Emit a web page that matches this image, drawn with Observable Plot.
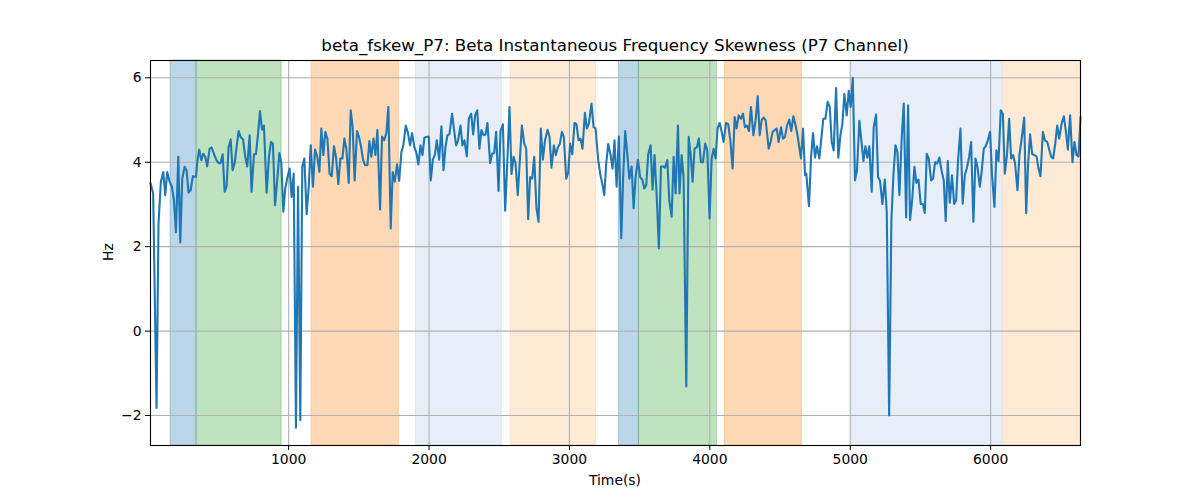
<!DOCTYPE html>
<html>
<head>
<meta charset="utf-8">
<script src="https://cdn.jsdelivr.net/npm/d3@7"></script>
<script src="https://cdn.jsdelivr.net/npm/@observablehq/plot@0.6"></script>
<style>
  html, body { margin: 0; padding: 0; background: #fff; }
  #wrap { position: relative; width: 1200px; height: 500px; font-family: "DejaVu Sans", sans-serif; }
  #title { position: absolute; left: 150px; width: 930px; top: 37px; text-align: center; font-size: 16.7px; line-height: 1; color: #000; white-space: nowrap; }
  #xlabel { position: absolute; left: 150px; width: 930px; top: 474px; text-align: center; font-size: 13.9px; line-height: 1; color: #000; }
  #ylabel { position: absolute; left: 109px; top: 252px; font-size: 13.9px; line-height: 1; color: #000; transform: translate(-50%, -50%) rotate(-90deg); white-space: nowrap; }
  svg { position: absolute; left: 0; top: 0; }
</style>
</head>
<body>
<div id="wrap">
  <div id="chart"></div>
  <div id="title">beta_fskew_P7: Beta Instantaneous Frequency Skewness (P7 Channel)</div>
  <div id="xlabel">Time(s)</div>
  <div id="ylabel">Hz</div>
</div>
<script>
// Sampled time (s)
const times = [16,35,59,73,90,107,121,135,152,168,183,197,214,228,242,259,273,287,302,318,340,349,363,378,392,406,420,437,451,468,484,501,515,530,544,558,572,587,601,615,629,644,658,675,691,705,722,736,753,767,781,796,810,824,843,860,874,888,903,919,934,948,962,
976,991,1007,1021,1036,1052,1067,1083,1097,1112,1128,1143,1157,1173,1188,1204,1219,1233,1247,1261,1276,1292,1307,1323,1337,1354,1368,1383,1397,1411,1428,1442,1456,1470,1487,1501,1516,1530,1544,1561,1575,1589,1604,1618,1632,1651,1665,1680,1696,1710,1727,1741,1756,1772,1787,1803,1817,1834,1848,1865,1879,
1896,1910,1924,1939,1953,1967,1981,1998,2012,2027,2041,2055,2072,2088,2103,2117,2131,2145,2164,2179,2193,2207,2224,2238,2252,2269,2283,2300,2314,2328,2343,2359,2373,2388,2402,2416,2435,2449,2464,2478,2495,2509,2526,2542,2556,2573,2587,2602,2616,2632,2647,2661,2678,2692,2706,2720,2735,2749,2765,2780,2796,2811,2825,2844,
2858,2872,2889,2903,2917,2932,2946,2960,2977,2991,3005,3020,3036,3050,3065,3079,3093,3110,3124,3138,3157,3172,3186,3205,3219,3233,3248,3262,3276,3293,3307,3321,3336,3352,3369,3383,3397,3412,3426,3443,3457,3471,3488,3504,3519,3533,3547,3561,3578,3592,3606,3623,3637,3652,3666,3680,3697,3711,3728,3742,3756,3773,
3784,3799,3813,3832,3849,3863,3877,3891,3908,3922,3937,3951,3967,3982,3998,4013,4027,4041,4055,4070,4084,4098,4115,4131,4146,4162,4177,4191,4205,4222,4236,4250,4264,4279,4293,4310,4326,4341,4355,4369,4383,4398,4419,4433,4447,4462,4476,4490,4507,4521,4535,4550,4566,4580,4595,4611,4626,4640,4649,4664,4678,4687,4706,
4721,4735,4749,4763,4780,4794,4808,4823,4839,4854,4868,4882,4899,4915,4930,4944,4958,4975,4989,5003,5018,5034,5048,5065,5079,5094,5108,5122,5136,5153,5167,5184,5198,5212,5229,5246,5260,5277,5293,5308,5322,5336,5350,5367,5381,5398,5412,5426,5441,5457,5471,5486,5502,5517,5531,5545,5559,5576,5590,5604,5619,5635,5650,5666,
5680,5695,5709,5725,5740,5754,5768,5785,5801,5816,5830,5847,5861,5877,5892,5906,5923,5937,5951,5965,5980,5996,6010,6027,6041,6056,6072,6087,6101,6117,6132,6146,6160,6174,6191,6205,6222,6239,6253,6267,6281,6296,6312,6327,6341,6355,6372,6386,6403,6417,6431,6445,6460,6474,6488,6505,6521,6535,6550,6566,6583,6597,6612,6626,6640];

// Beta instantaneous frequency skewness (Hz)
const skew = [3.5,3.26,-1.82,2.55,3.54,3.77,3.22,3.77,3.54,3.42,3.1,2.34,4.13,2.1,3.61,3.89,3.81,3.28,3.34,3.67,3.65,4.0,4.3,4.05,4.2,4.13,3.9,4.32,4.35,4.2,4.06,3.98,3.98,4.19,3.3,3.43,4.35,4.54,3.81,3.97,4.35,4.74,4.6,4.54,4.13,3.9,4.64,3.3,4.19,4.19,4.64,5.21,4.77,4.87,3.28,4.13,4.48,4.44,2.98,3.59,4.22,3.97,2.83,
3.38,3.64,3.85,3.18,3.73,-2.29,3.42,-2.11,3.9,4.09,2.77,3.42,4.4,3.42,4.3,4.13,3.77,4.8,4.17,4.72,4.56,3.72,3.67,4.38,4.13,3.48,4.09,4.09,4.56,4.32,3.51,5.23,4.83,3.57,4.74,4.6,4.36,4.06,3.93,3.93,4.5,4.13,4.56,4.17,4.76,2.88,4.61,4.52,4.69,5.31,2.43,3.77,3.54,3.95,3.56,4.24,4.4,4.87,4.72,4.4,4.69,
4.35,4.22,3.95,4.4,4.17,4.58,4.6,4.61,3.57,4.06,4.17,4.52,4.06,4.85,3.81,4.36,4.64,4.66,5.15,4.74,4.4,4.52,4.87,4.4,4.52,4.14,5.03,5.15,4.66,5.11,5.23,4.32,4.76,4.64,4.66,4.93,3.98,4.2,4.22,4.72,3.32,4.74,4.9,2.85,3.89,5.31,3.72,4.13,3.97,3.22,4.06,4.87,4.44,4.32,2.65,3.65,3.61,4.13,2.91,2.59,4.8,4.06,4.5,4.77,
4.61,3.87,4.4,4.17,4.35,4.44,4.72,4.6,3.61,3.75,4.44,4.19,4.93,4.9,4.52,4.56,4.32,5.17,4.8,4.91,5.39,4.83,4.8,4.05,3.73,3.5,3.22,3.97,4.43,4.17,3.85,4.52,3.42,4.61,2.2,3.69,4.74,4.2,3.61,3.9,2.91,3.64,4.06,3.64,3.59,3.38,3.46,4.19,4.4,3.35,4.17,3.1,1.96,3.9,3.9,3.87,4.05,3.1,2.71,4.13,3.26,4.87,
3.26,4.17,3.65,-1.31,4.6,4.2,3.54,4.32,4.36,4.56,4.0,4.0,4.44,4.28,2.67,4.09,4.32,4.09,4.8,4.93,4.72,4.48,4.93,4.9,4.52,3.85,5.07,4.8,5.11,5.03,5.15,4.83,4.87,4.74,5.31,4.64,4.99,5.56,4.64,4.99,5.06,4.99,4.32,4.48,4.72,4.76,4.8,4.48,4.83,4.56,4.6,4.87,5.01,4.74,5.09,4.87,4.61,4.28,4.09,4.8,3.69,3.73,2.96,
4.13,4.69,4.11,4.38,4.09,4.56,5.03,5.03,5.43,5.31,4.48,4.28,5.76,4.11,4.64,4.91,5.62,5.11,5.69,5.31,6.0,3.57,3.81,4.98,4.52,4.03,4.38,4.11,4.38,3.3,4.83,5.13,3.65,3.56,3.01,3.59,2.83,-2.0,2.63,3.73,4.4,4.24,3.22,4.6,5.39,2.69,5.35,2.63,3.1,3.89,3.51,3.59,3.01,3.01,2.8,4.2,4.09,3.57,3.61,4.0,3.97,4.11,3.81,3.57,
2.61,4.03,3.04,3.69,3.01,3.1,4.05,4.8,3.02,3.69,3.85,4.13,4.48,2.59,4.09,3.89,3.42,3.81,4.32,4.38,4.52,4.72,3.69,2.94,4.28,4.03,5.23,5.15,3.73,4.2,5.03,4.09,4.17,3.97,3.34,4.17,4.58,5.06,2.79,3.97,4.66,4.19,4.17,4.14,3.85,3.67,4.72,4.52,4.48,4.3,4.13,4.09,4.44,4.87,4.56,4.91,5.09,4.76,4.3,5.11,4.0,4.48,4.17,4.14,5.07];

// Shaded intervals (s)
const spanStart = [159, 344, 1164, 1906, 2583, 3352, 3495, 4107, 5013, 6089];
const spanEnd   = [344, 950, 1785, 2518, 3189, 3495, 4051, 4656, 6082, 6640];
const spanColor = ["#1f77b4","#2ca02c","#ff7f0e","#aec7e8","#ffbb78","#1f77b4","#2ca02c","#ff7f0e","#aec7e8","#ffbb78"];

const xTicks = [1000, 2000, 3000, 4000, 5000, 6000];
const yTicks = [-2, 0, 2, 4, 6];

const series = times.map((t, i) => ({t, v: skew[i]}));
const spans = spanStart.map((s, i) => ({s, e: spanEnd[i], c: spanColor[i]}));

const chart = Plot.plot({
  width: 1200,
  height: 500,
  marginLeft: 150,
  marginRight: 120,
  marginTop: 60,
  marginBottom: 55,
  style: {fontFamily: "DejaVu Sans, sans-serif", fontSize: "13.9px", color: "#000", background: "transparent"},
  x: {domain: [16, 6640], label: null},
  y: {domain: [-2.71, 6.41], label: null},
  marks: [
    Plot.rect(spans, {x1: "s", x2: "e", fill: "c", fillOpacity: 0.3, stroke: "c", strokeOpacity: 0.3, strokeWidth: 1}),
    Plot.gridX(xTicks, {stroke: "#b0b0b0", strokeOpacity: 1, strokeWidth: 1.1}),
    Plot.gridY(yTicks, {stroke: "#b0b0b0", strokeOpacity: 1, strokeWidth: 1.1}),
    Plot.line(series, {x: "t", y: "v", stroke: "#1f77b4", strokeWidth: 2.1}),
    Plot.frame({stroke: "#000", strokeWidth: 1.1}),
    Plot.axisX(xTicks, {tickSize: 5, tickPadding: 4, label: null, fontSize: 13.9, tickFormat: d => String(d)}),
    Plot.axisY(yTicks, {tickSize: 5, tickPadding: 4, label: null, fontSize: 13.9})
  ]
});
document.getElementById("chart").appendChild(chart);
</script>
</body>
</html>
